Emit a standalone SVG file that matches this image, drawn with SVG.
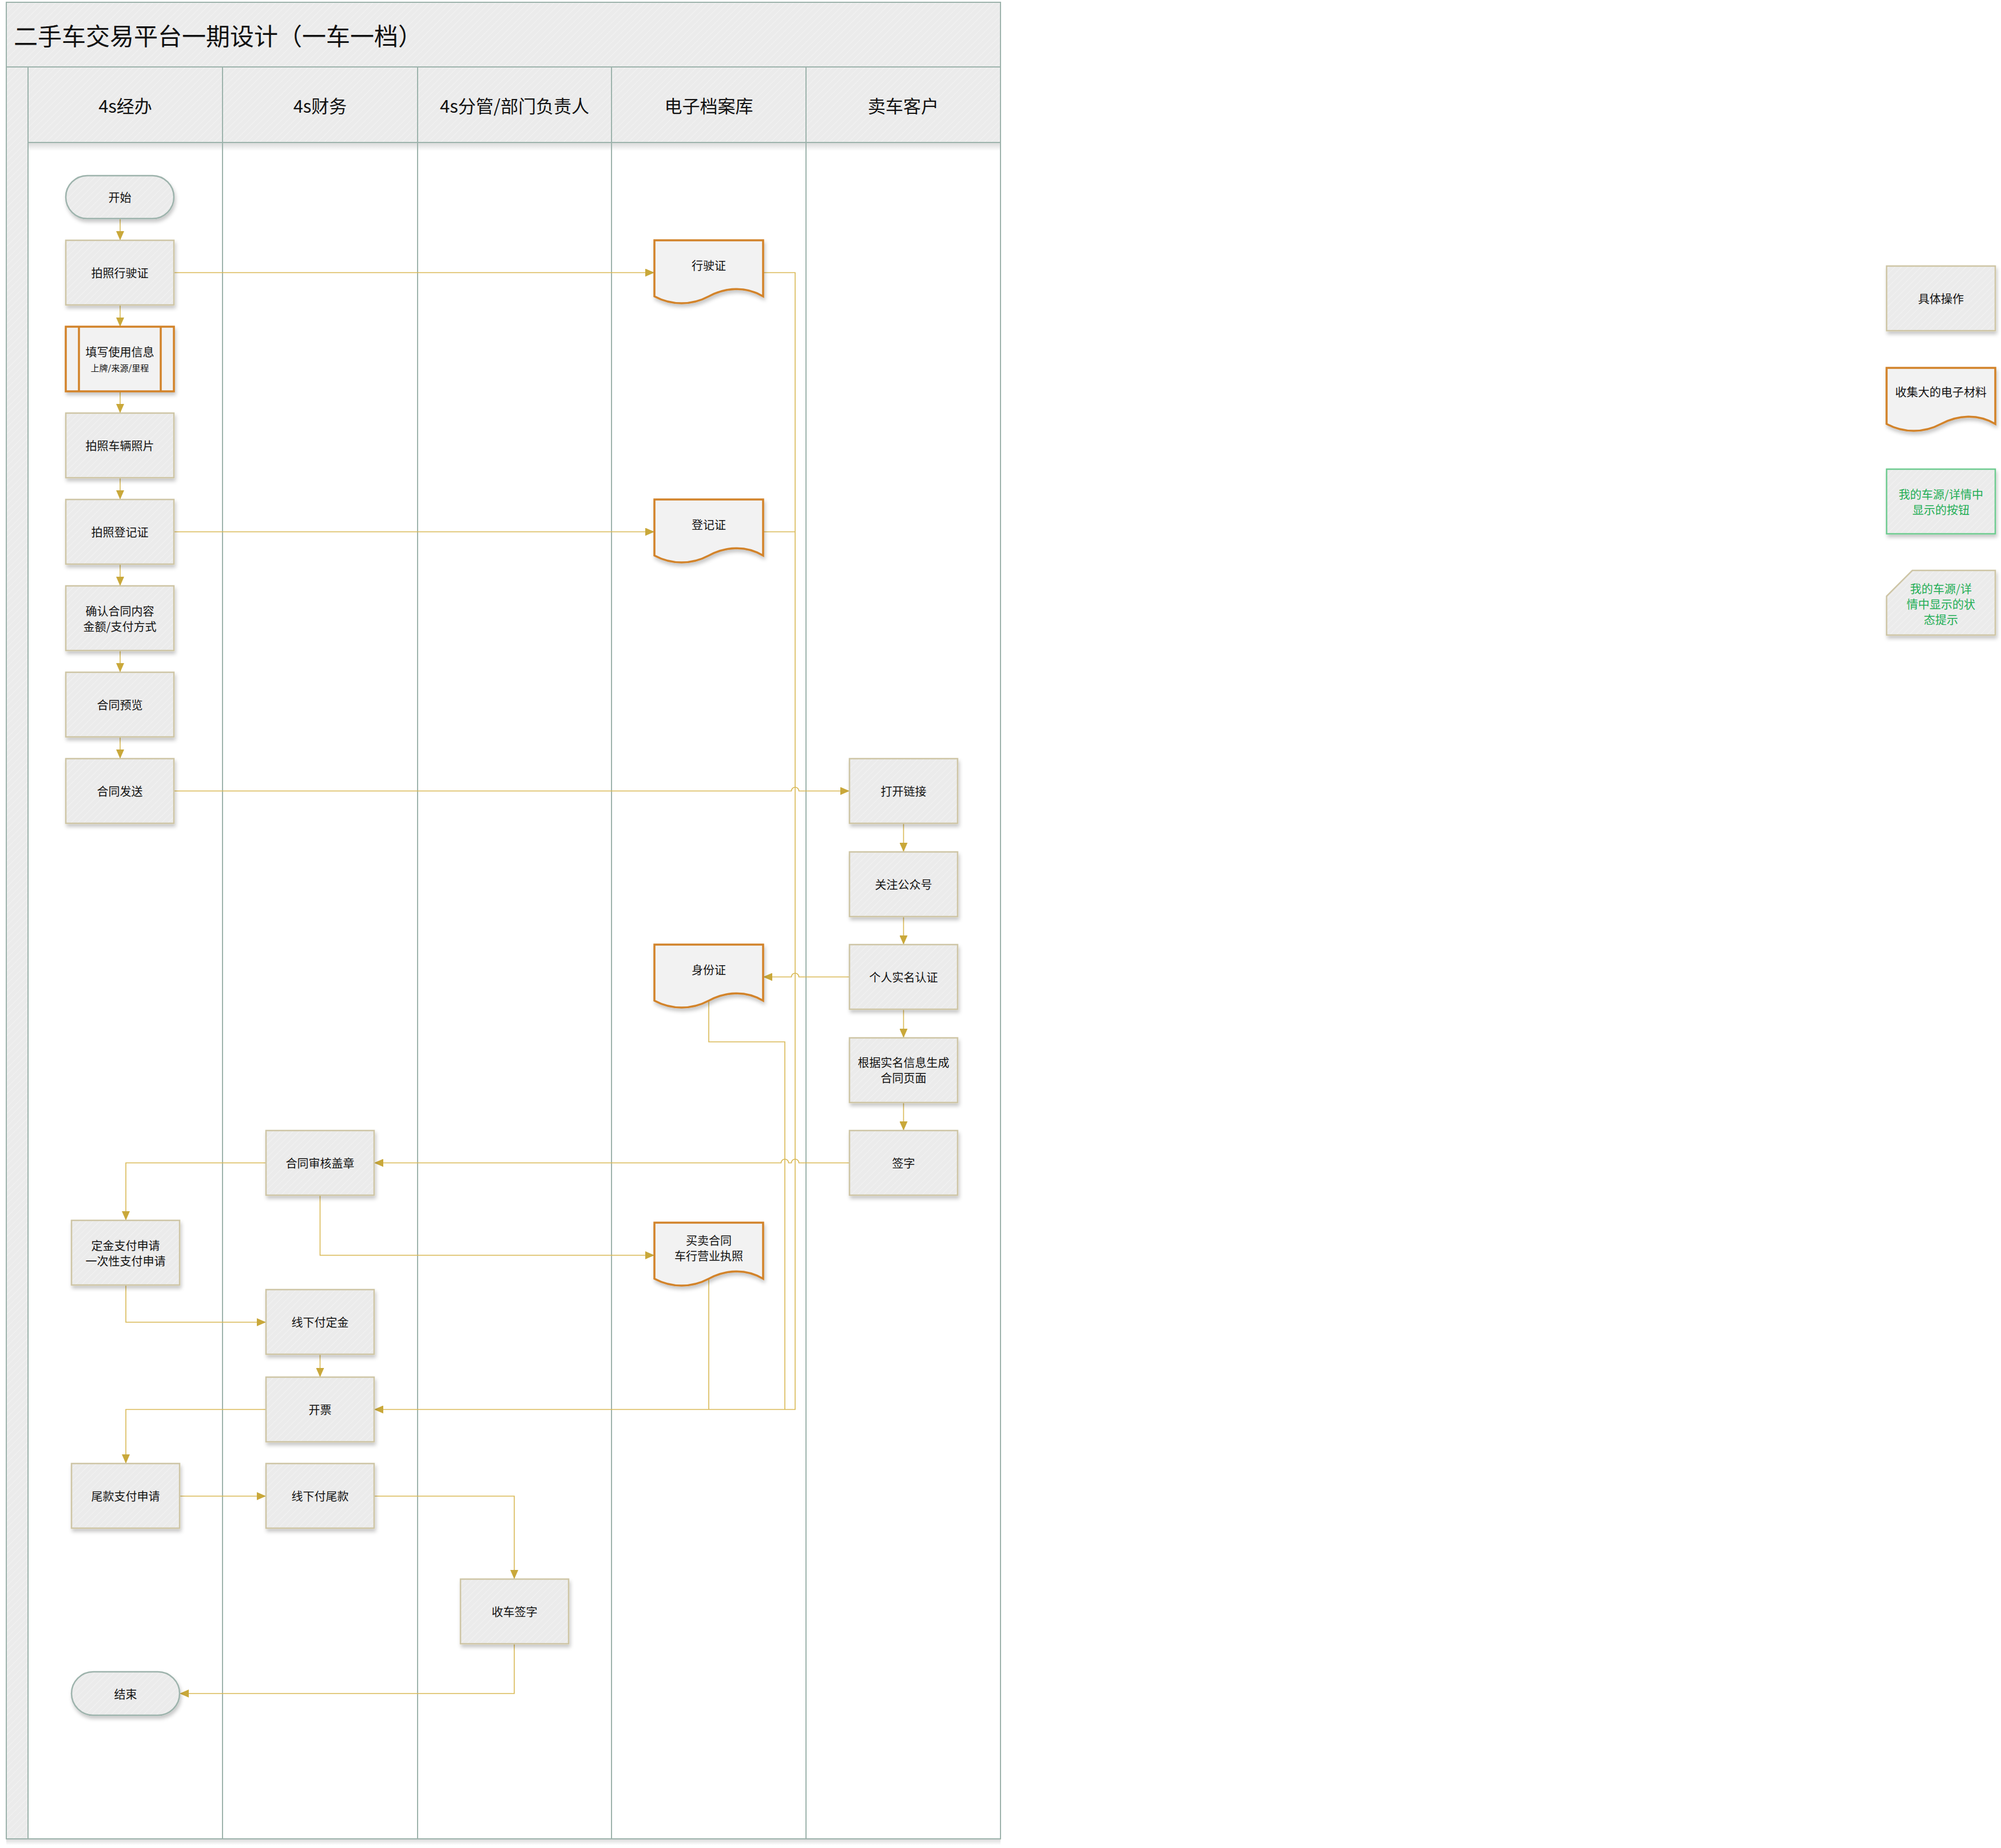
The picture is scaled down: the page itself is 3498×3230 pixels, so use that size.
<svg xmlns="http://www.w3.org/2000/svg" width="3498" height="3230" viewBox="0 0 3498 3230">
<defs>
<pattern id="hatch" width="8" height="8" patternUnits="userSpaceOnUse" patternTransform="rotate(45)"><rect width="8" height="8" fill="#EBEBEB"/><line x1="0" y1="0" x2="0" y2="8" stroke="#F2F2F2" stroke-width="2"/></pattern>
<filter id="sh" x="-10%" y="-10%" width="130%" height="140%"><feDropShadow dx="2" dy="5" stdDeviation="3" flood-color="#000" flood-opacity="0.22"/></filter>
<linearGradient id="hs" x1="0" y1="0" x2="0" y2="1"><stop offset="0" stop-color="#000" stop-opacity="0.14"/><stop offset="1" stop-color="#000" stop-opacity="0"/></linearGradient>
<marker id="ar" viewBox="0 0 16 14" refX="16" refY="7" markerWidth="16" markerHeight="14" markerUnits="userSpaceOnUse" orient="auto"><path d="M0,0 L16,7 L0,14 Z" fill="#C9A83A"/></marker>
<path id="docshape" d="M0,0 H190 V98 C160,80 125,82 95,98 C65,114 30,114 0,98 Z"/>
</defs>
<style>
.ln{stroke:#9DB3AC;stroke-width:2;fill:none}
.hf{fill:url(#hatch)}
.box{fill:url(#hatch);stroke:#CEC5A5;stroke-width:2.5;filter:url(#sh)}
.term{fill:url(#hatch);stroke:#9DB3AC;stroke-width:2.5;filter:url(#sh)}
.doc{fill:#F2F2F2;stroke:#D2832A;stroke-width:3.5;filter:url(#sh)}
.sub{fill:#F2F2F2;stroke:#D2832A;stroke-width:3.5;filter:url(#sh)}
.gbox{fill:url(#hatch);stroke:#6DCB8F;stroke-width:2.5;filter:url(#sh)}
.t{font-family:"Noto Sans CJK SC","Noto Sans",sans-serif;font-size:20px;fill:#111;text-anchor:middle;dominant-baseline:central}
.ts{font-size:15px}
.tg{fill:#1FAE55}
.hd{font-family:"Noto Sans CJK SC","Noto Sans",sans-serif;font-size:31px;fill:#111;text-anchor:middle;dominant-baseline:central}
.c{fill:none;stroke:#D9B955;stroke-width:1.6}
.a{marker-end:url(#ar)}
</style>
<rect width="3498" height="3230" fill="#FFFFFF"/>

<g id="pool">
<rect x="11" y="4" width="1738" height="113" class="hf"/>
<rect x="11" y="117" width="38" height="3097" class="hf"/>
<rect x="49" y="117" width="1700" height="132" class="hf"/>
<rect x="49" y="250" width="1700" height="14" fill="url(#hs)"/>
<rect x="11" y="3215" width="1738" height="10" fill="url(#hs)"/>
<rect x="11" y="4" width="1738" height="3210" class="ln"/>
<line x1="11" y1="117" x2="1749" y2="117" class="ln"/>
<line x1="49" y1="249" x2="1749" y2="249" class="ln"/>
<line x1="49" y1="117" x2="49" y2="3214" class="ln"/>
<line x1="389" y1="117" x2="389" y2="3214" class="ln"/>
<line x1="730" y1="117" x2="730" y2="3214" class="ln"/>
<line x1="1069" y1="117" x2="1069" y2="3214" class="ln"/>
<line x1="1409" y1="117" x2="1409" y2="3214" class="ln"/>
<text x="24" y="60" font-family="Noto Sans CJK SC, Noto Sans, sans-serif" font-size="42" fill="#111" dominant-baseline="central">二手车交易平台一期设计（一车一档）</text>
<text x="219" y="183" class="hd">4s经办</text>
<text x="559.5" y="183" class="hd">4s财务</text>
<text x="899.5" y="183" class="hd">4s分管/部门负责人</text>
<text x="1239" y="183" class="hd">电子档案库</text>
<text x="1579" y="183" class="hd">卖车客户</text>
</g>

<g id="connectors">
<path class="c a" d="M210,382 V420"/>
<path class="c a" d="M210,533 V571"/>
<path class="c a" d="M210,684 V722"/>
<path class="c a" d="M210,835 V873"/>
<path class="c a" d="M210,986 V1024"/>
<path class="c a" d="M210,1137 V1175"/>
<path class="c a" d="M210,1288 V1326"/>
<path class="c a" d="M304,476.5 H1144"/>
<path class="c a" d="M304,929.5 H1144"/>
<path class="c a" d="M304,1382.5 H1383.5 A6.5,6.5 0 0 1 1396.5,1382.5 H1485"/>
<path class="c a" d="M1579.5,1439 V1489"/>
<path class="c a" d="M1579.5,1602 V1651"/>
<path class="c a" d="M1579.5,1764 V1814"/>
<path class="c a" d="M1579.5,1927 V1976"/>
<path class="c a" d="M1485,1707.5 H1396.5 A6.5,6.5 0 0 0 1383.5,1707.5 H1334"/>
<path class="c a" d="M1485,2032.5 H1396.5 A6.5,6.5 0 0 0 1383.5,2032.5 H1378.5 A6.5,6.5 0 0 0 1365.5,2032.5 H654"/>
<path class="c a" d="M1334,476.5 H1390 V2463.5 H654"/>
<path class="c" d="M1334,929.5 H1390"/>
<path class="c" d="M1239,1749 V1821 H1372 V2463.5"/>
<path class="c" d="M1239,2235 V2463.5"/>
<path class="c a" d="M465,2032.5 H220 V2133"/>
<path class="c a" d="M559.5,2089 V2194 H1144"/>
<path class="c a" d="M220,2246 V2311 H465"/>
<path class="c a" d="M559.5,2367 V2407"/>
<path class="c a" d="M465,2463.5 H220 V2558"/>
<path class="c a" d="M314,2615 H465"/>
<path class="c a" d="M654,2615 H899 V2760"/>
<path class="c a" d="M899,2873 V2960 H314"/>
</g>

<g id="n-start"><rect x="115" y="307" width="189" height="75" rx="37.5" class="term"/><text x="209.5" y="344.5" class="t">开始</text></g>
<g id="n-photo-license"><rect x="115" y="420" width="189" height="113" class="box"/><text x="209.5" y="476.5" class="t">拍照行驶证</text></g>
<g id="n-fill-info"><rect x="115" y="571" width="189" height="113" class="sub"/><line x1="138" y1="571" x2="138" y2="684" stroke="#D2832A" stroke-width="3.5"/><line x1="281" y1="571" x2="281" y2="684" stroke="#D2832A" stroke-width="3.5"/><text x="209.5" y="614" class="t">填写使用信息</text><text x="209.5" y="642" class="t ts">上牌/来源/里程</text></g>
<g id="n-photo-car"><rect x="115" y="722" width="189" height="113" class="box"/><text x="209.5" y="778.5" class="t">拍照车辆照片</text></g>
<g id="n-photo-reg"><rect x="115" y="873" width="189" height="113" class="box"/><text x="209.5" y="929.5" class="t">拍照登记证</text></g>
<g id="n-confirm"><rect x="115" y="1024" width="189" height="113" class="box"/><text x="209.5" y="1067" class="t">确认合同内容</text><text x="209.5" y="1094" class="t">金额/支付方式</text></g>
<g id="n-preview"><rect x="115" y="1175" width="189" height="113" class="box"/><text x="209.5" y="1231.5" class="t">合同预览</text></g>
<g id="n-send"><rect x="115" y="1326" width="189" height="113" class="box"/><text x="209.5" y="1382.5" class="t">合同发送</text></g>
<g id="n-deposit-apply"><rect x="125" y="2133" width="189" height="113" class="box"/><text x="219.5" y="2176" class="t">定金支付申请</text><text x="219.5" y="2203" class="t">一次性支付申请</text></g>
<g id="n-final-apply"><rect x="125" y="2558" width="189" height="113" class="box"/><text x="219.5" y="2614.5" class="t">尾款支付申请</text></g>
<g id="n-end"><rect x="125" y="2922" width="189" height="76" rx="38" class="term"/><text x="219.5" y="2960" class="t">结束</text></g>

<g id="n-review"><rect x="465" y="1976" width="189" height="113" class="box"/><text x="559.5" y="2032.5" class="t">合同审核盖章</text></g>
<g id="n-pay-deposit"><rect x="465" y="2254" width="189" height="113" class="box"/><text x="559.5" y="2310.5" class="t">线下付定金</text></g>
<g id="n-invoice"><rect x="465" y="2407" width="189" height="113" class="box"/><text x="559.5" y="2463.5" class="t">开票</text></g>
<g id="n-pay-final"><rect x="465" y="2558" width="189" height="113" class="box"/><text x="559.5" y="2614.5" class="t">线下付尾款</text></g>

<g id="n-receive"><rect x="805" y="2760" width="189" height="113" class="box"/><text x="899.5" y="2816.5" class="t">收车签字</text></g>

<g id="d-license"><use href="#docshape" x="1144" y="420" class="doc"/><text x="1239" y="463" class="t">行驶证</text></g>
<g id="d-reg"><use href="#docshape" x="1144" y="873" class="doc"/><text x="1239" y="916" class="t">登记证</text></g>
<g id="d-id"><use href="#docshape" x="1144" y="1651" class="doc"/><text x="1239" y="1694" class="t">身份证</text></g>
<g id="d-contract"><use href="#docshape" x="1144" y="2137" class="doc"/><text x="1239" y="2167" class="t">买卖合同</text><text x="1239" y="2194" class="t">车行营业执照</text></g>

<g id="n-open-link"><rect x="1485" y="1326" width="189" height="113" class="box"/><text x="1579.5" y="1382.5" class="t">打开链接</text></g>
<g id="n-follow"><rect x="1485" y="1489" width="189" height="113" class="box"/><text x="1579.5" y="1545.5" class="t">关注公众号</text></g>
<g id="n-realname"><rect x="1485" y="1651" width="189" height="113" class="box"/><text x="1579.5" y="1707.5" class="t">个人实名认证</text></g>
<g id="n-gen-page"><rect x="1485" y="1814" width="189" height="113" class="box"/><text x="1579.5" y="1856" class="t">根据实名信息生成</text><text x="1579.5" y="1883" class="t">合同页面</text></g>
<g id="n-sign"><rect x="1485" y="1976" width="189" height="113" class="box"/><text x="1579.5" y="2032.5" class="t">签字</text></g>

<g id="legend-op"><rect x="3298" y="465" width="190" height="113" class="box"/><text x="3393" y="521.5" class="t">具体操作</text></g>
<g id="legend-doc"><use href="#docshape" x="3298" y="643" class="doc"/><text x="3393" y="684" class="t">收集大的电子材料</text></g>
<g id="legend-button"><rect x="3298" y="820" width="190" height="113" class="gbox"/><text x="3393" y="863" class="t tg">我的车源/详情中</text><text x="3393" y="890" class="t tg">显示的按钮</text></g>
<g id="legend-status"><path d="M3343,997 H3488 V1110 H3298 V1042 Z" class="box"/><text x="3393" y="1028" class="t tg">我的车源/详</text><text x="3393" y="1055" class="t tg">情中显示的状</text><text x="3393" y="1082" class="t tg">态提示</text></g>
</svg>
